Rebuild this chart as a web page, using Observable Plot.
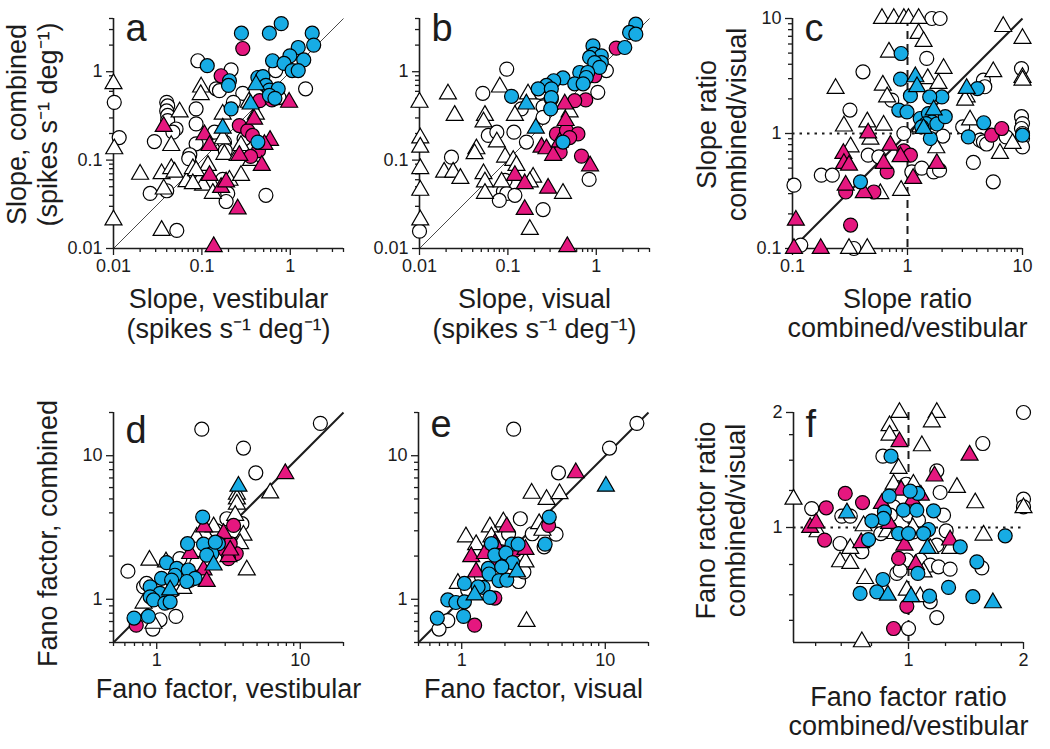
<!DOCTYPE html>
<html><head><meta charset="utf-8">
<script src="https://cdn.jsdelivr.net/npm/d3@7"></script>
<script src="https://cdn.jsdelivr.net/npm/@observablehq/plot@0.6"></script>
<style>
body{margin:0;background:#fff;}
#chart{position:relative;width:1050px;height:749px;overflow:hidden;background:#fff;}
#chart svg{position:absolute;overflow:visible;}
</style></head><body><div id="chart"></div>
<script>
// ---------- Panel a: slope combined vs vestibular ----------
const aOpenCircle = [[0.09,1.33],[0.214,1.05],[0.145,0.64],[0.158,0.61],[0.29,0.57],[0.227,0.45],[1.49,0.64],[0.04,0.45],[0.041,0.41],[0.04,0.36],[0.041,0.32],[0.041,0.28],[0.051,0.225],[0.047,0.207],[0.086,0.38],[0.086,0.257],[0.029,0.162],[0.139,0.207],[0.18,0.16],[0.086,0.153],[0.073,0.115],[0.071,0.104],[0.184,0.128],[0.026,0.042],[0.04,0.045],[0.53,0.04],[0.196,0.042],[0.188,0.034],[0.052,0.016],[0.0102,0.45],[0.0116,0.18],[0.172,0.0605],[0.684,1.03],[0.746,0.51],[0.3,0.174]];
const aOpenTri = [[0.01,0.73],[0.0102,0.134],[0.01,0.021],[0.035,0.016],[0.098,0.67],[0.097,0.55],[0.056,0.35],[0.045,0.146],[0.02,0.069],[0.035,0.07],[0.045,0.08],[0.049,0.073],[0.037,0.047],[0.067,0.057],[0.079,0.08],[0.094,0.059],[0.117,0.087],[0.103,0.052],[0.133,0.042],[0.205,0.059],[0.277,0.067],[0.172,0.33],[0.18,0.116],[0.254,0.113],[0.277,0.146],[0.36,0.099],[0.408,0.33],[0.34,0.45],[0.172,0.174],[0.086,0.076],[0.079,0.054]];
const aMagCircle = [[0.29,1.83],[0.165,0.9],[0.45,0.47],[0.265,0.246],[0.33,0.216],[0.374,0.19],[0.437,0.128],[0.356,0.11],[0.62,0.48]];
const aMagTri = [[0.97,0.45],[0.39,0.29],[0.107,0.193],[0.122,0.146],[0.59,0.167],[0.51,0.15],[0.265,0.113],[0.476,0.087],[0.122,0.067],[0.165,0.049],[0.188,0.0565],[0.254,0.028],[0.136,0.0105],[0.037,0.24]];
const aCyanCircle = [[0.28,2.73],[0.58,2.73],[0.79,3.5],[1.77,2.73],[1.84,2.0],[1.23,1.88],[0.99,1.51],[0.63,1.33],[0.85,1.24],[1.42,1.36],[1.05,1.03],[1.23,1.03],[0.115,1.17],[0.205,0.79],[0.2,0.7],[0.43,0.86],[0.49,0.88],[0.53,0.7],[0.58,0.62],[0.73,0.64],[0.58,0.54],[0.67,0.5],[0.214,0.38],[0.43,0.16]];
const aCyanTri = [[0.356,0.43],[0.172,0.23],[0.41,0.71]];

// ---------- Panel b: slope combined vs visual ----------
const bOpenCircle = [[0.097,1.07],[0.052,0.57],[0.142,0.38],[0.25,0.4],[0.31,0.49],[0.06,0.19],[0.075,0.207],[0.117,0.207],[0.162,0.16],[0.023,0.108],[0.093,0.059],[0.089,0.044],[0.097,0.042],[0.08,0.035],[0.12,0.04],[0.25,0.0276],[0.01,0.0157],[0.83,0.0605],[1.09,1.07],[1.3,1.03],[1.04,0.585],[0.23,0.585],[0.25,0.305]];
const bOpenTri = [[0.01,0.45],[0.021,0.56],[0.025,0.32],[0.0102,0.178],[0.0102,0.14],[0.0102,0.08],[0.0102,0.0455],[0.0102,0.021],[0.081,0.67],[0.055,0.32],[0.053,0.27],[0.044,0.134],[0.042,0.118],[0.075,0.16],[0.093,0.108],[0.019,0.073],[0.024,0.073],[0.029,0.062],[0.053,0.07],[0.055,0.0565],[0.055,0.042],[0.085,0.0565],[0.115,0.099],[0.125,0.087],[0.193,0.064],[0.177,0.0565],[0.42,0.042],[0.177,0.0164],[0.12,0.32],[0.169,0.56],[0.5,0.35]];
const bMagCircle = [[1.68,1.85],[0.96,0.9],[0.76,0.48],[0.354,0.198],[0.46,0.216],[0.62,0.198],[0.39,0.123],[0.68,0.111],[0.57,0.47],[0.5,0.18]];
const bMagTri = [[0.85,0.086],[0.45,0.28],[0.24,0.14],[0.273,0.134],[0.325,0.113],[0.12,0.067],[0.155,0.054],[0.285,0.048],[0.155,0.0276],[0.47,0.0105],[0.386,0.16],[0.44,0.43]];
const bCyanCircle = [[2.8,3.45],[2.38,2.78],[2.8,2.66],[2.1,1.88],[0.917,1.96],[0.93,1.58],[1.14,1.51],[1.14,1.27],[0.84,1.45],[0.96,1.27],[1.09,1.12],[0.65,0.98],[0.8,0.98],[0.77,0.86],[0.42,0.85],[0.33,0.79],[0.273,0.7],[0.22,0.64],[0.31,0.64],[0.57,0.73],[0.71,0.73],[0.11,0.527],[0.31,0.51],[0.305,0.38],[0.42,0.16]];
const bCyanTri = [[0.162,0.43],[0.207,0.23]];

// ---------- Panel c: slope ratios ----------
const cOpenCircle = [[1.63,10],[1.92,10],[1.47,4.5],[0.41,3.44],[0.73,1.95],[0.316,1.6],[4.57,2.91],[4.7,2.55],[0.455,0.648],[0.93,1.0],[0.563,0.627],[1.09,0.464],[1.33,0.5],[1.69,0.464],[1.9,0.48],[2.03,0.95],[3.02,1.14],[3.74,0.56],[4.27,0.875],[4.57,0.846],[4.87,0.81],[7.2,0.935],[5.57,0.38],[9.8,3.67],[9.8,1.4],[10,1.22],[9.8,1.105],[10,1.0],[10,0.905],[10,0.765],[0.178,0.434],[0.222,0.434],[0.103,0.355],[0.118,0.107],[0.342,0.1]];
const cOpenTri = [[0.6,10],[0.76,10],[0.93,10],[1.02,10],[1.25,10],[6.8,8.5],[1.25,7.4],[1.38,6.3],[0.69,5.1],[10,6.7],[2.06,3.67],[5.57,3.44],[0.61,2.63],[1.5,3.0],[1.86,2.72],[0.665,2.08],[0.237,2.46],[3.27,2.08],[3.17,1.95],[0.28,1.16],[0.447,1.26],[0.62,1.18],[0.476,0.89],[0.32,0.765],[0.58,0.3],[0.88,0.32],[1.78,0.75],[6.37,0.67],[8.2,0.82],[10,3.07],[10,2.91],[0.31,0.1],[0.447,0.1],[1.29,1.14],[3.5,1.31]];
const cMagCircle = [[0.93,0.707],[1.06,0.648],[0.665,0.464],[0.29,0.31],[0.51,0.31],[0.32,0.16],[5.39,0.967],[6.6,1.105]];
const cMagTri = [[0.455,1.01],[0.277,0.67],[0.28,0.548],[0.31,0.53],[0.71,0.79],[0.87,0.627],[0.62,0.548],[0.417,0.305],[1.12,0.406],[1.8,0.548],[0.107,0.176],[0.103,0.1],[0.176,0.1],[0.29,0.355]];
const cCyanCircle = [[0.88,4.96],[0.87,2.97],[1.06,2.13],[0.84,1.6],[0.99,1.54],[1.29,1.35],[1.52,1.49],[1.63,1.26],[1.45,1.22],[1.8,1.21],[1.58,0.905],[1.99,2.08],[2.13,1.4],[1.56,2.08],[3.38,0.935],[4.05,2.46],[4.6,1.24],[10,0.967],[0.39,0.38],[1.33,1.14]];
const cCyanTri = [[1.17,3.11],[1.21,2.55],[1.69,1.6],[3.27,2.46],[1.38,1.105]];

// ---------- Panel d: Fano combined vs vestibular ----------
const dOpenCircle = [[2.06,15.3],[4.02,11.3],[4.9,7.6],[13.8,16.8],[0.63,1.57],[0.81,1.22],[1.055,0.72],[0.94,0.62],[1.36,0.76],[3.08,3.64],[3.92,3.36],[1.71,1.36],[1.45,1.92],[3.43,3.0],[2.62,3.0],[2.36,2.3],[1.9,1.78],[1.31,1.16],[0.85,1.29]];
const dOpenTri = [[6.17,5.5],[3.62,5.4],[3.62,5.0],[3.62,4.6],[3.52,3.84],[4.02,2.79],[4.24,1.6],[0.89,1.87],[1.16,1.82],[1.53,1.19],[0.81,0.94],[0.95,0.68],[2.49,3.19],[2.84,2.57],[3.81,2.44],[1.9,2.7]];
const dMagCircle = [[3.43,3.27],[3.58,2.08],[3.16,1.92],[3.0,2.2],[0.72,0.66],[1.03,1.02],[3.25,2.44]];
const dMagTri = [[7.86,7.5],[2.14,3.19],[2.12,1.6],[2.23,1.33],[1.71,2.08],[3.16,1.98],[3.25,2.2],[2.92,2.87]];
const dCyanCircle = [[2.09,3.74],[1.64,2.44],[2.12,2.42],[2.69,2.44],[2.42,2.08],[2.23,2.03],[1.17,1.8],[1.38,1.64],[1.34,1.47],[1.66,1.6],[1.85,1.4],[1.08,1.4],[1.27,1.36],[1.62,1.33],[0.9,1.22],[1.055,1.1],[0.9,1.04],[0.95,0.99],[1.14,0.94],[1.24,0.96],[0.695,0.74],[0.875,0.76],[2.56,2.5]];
const dCyanTri = [[3.71,6.13],[2.49,1.73],[1.24,1.16]];

// ---------- Panel e: Fano combined vs visual ----------
const eOpenCircle = [[2.3,15.3],[10.7,11.3],[16.6,16.8],[4.72,7.6],[2.56,3.64],[4.54,2.84],[3.75,2.32],[2.49,1.33],[2.71,1.55],[0.8,0.71],[0.695,0.62],[1.1,1.16],[2.12,2.86],[3.1,2.86],[1.37,1.44]];
const eOpenTri = [[3.07,5.47],[3.9,4.95],[4.8,5.43],[1.07,2.72],[1.26,2.4],[1.57,3.19],[1.95,3.45],[2.83,0.7],[2.78,1.82],[0.94,1.29],[3.46,3.36],[3.65,3.02],[1.61,2.72]];
const eMagCircle = [[4.03,3.27],[2.36,2.2],[1.23,0.66],[1.7,1.02],[1.8,1.78],[1.9,2.14]];
const eMagTri = [[6.23,7.6],[1.165,1.98],[2.06,3.19],[2.78,2.22],[1.26,1.55],[1.45,2.08],[1.7,2.44]];
const eCyanCircle = [[4.07,3.74],[1.61,2.44],[2.24,2.42],[2.47,2.42],[3.81,2.42],[1.7,2.03],[2.03,2.1],[2.26,1.8],[1.53,1.64],[1.9,1.68],[1.55,1.5],[1.82,1.35],[2.06,1.36],[1.41,1.21],[1.044,1.29],[0.8,0.99],[0.91,0.95],[1.044,0.96],[1.57,1.03],[0.676,0.74],[1.03,0.76],[1.3,1.22]];
const eCyanTri = [[10.1,6.13],[2.43,1.55],[1.23,1.07]];

// ---------- Panel f: Fano ratios ----------
const fOpenCircle = [[0.857,1.537],[1.186,1.407],[1.21,1.235],[1.565,1.659],[2.0,2.0],[2.0,1.186],[2.0,1.133],[0.558,1.121],[0.669,1.071],[0.704,1.071],[0.662,0.908],[0.755,0.864],[0.846,0.964],[0.914,1.133],[0.928,1.273],[0.986,1.298],[1.0,1.077],[1.062,1.045],[1.03,0.974],[1.186,0.899],[1.235,1.077],[1.255,0.98],[0.99,0.822],[1.073,0.822],[1.14,0.797],[1.198,0.789],[1.285,0.778],[1.556,0.784],[0.932,0.758],[0.951,0.773],[1.14,0.639],[1.186,0.581],[1.0,0.544],[0.896,1.077]];
const fOpenTri = [[0.947,2.0],[1.186,2.0],[1.151,1.89],[0.892,1.846],[0.892,1.745],[0.942,1.427],[1.084,1.636],[0.5,1.186],[0.914,1.298],[1.03,1.298],[1.339,1.273],[1.495,1.16],[1.572,0.955],[2.0,1.126],[0.763,1.01],[0.704,0.881],[0.662,0.813],[0.704,0.805],[0.77,0.735],[0.99,0.685],[1.073,0.659],[1.095,0.765],[0.755,0.502],[0.878,0.974],[0.923,0.964],[1.026,0.998],[1.14,0.881],[1.285,0.881],[0.578,0.974]];
const fMagCircle = [[0.683,1.228],[0.758,1.162],[0.609,1.126],[0.603,0.927],[0.942,0.83],[0.99,0.622],[0.914,0.544]];
const fMagTri = [[0.947,1.676],[1.445,1.546],[1.17,1.363],[0.957,1.252],[1.077,1.215],[0.852,1.156],[0.553,1.0],[0.573,1.028],[0.752,0.912],[0.89,1.024],[0.976,0.899],[1.045,0.8],[1.285,0.927],[1.024,1.179]];
const fCyanCircle = [[0.9,1.537],[0.89,1.208],[0.865,1.099],[0.86,1.056],[0.802,1.041],[0.786,0.93],[1.058,1.228],[1.01,1.245],[0.97,1.11],[1.051,1.11],[1.163,1.106],[1.128,0.988],[1.095,0.964],[0.942,0.964],[1.0,0.964],[1.366,0.89],[1.51,0.813],[1.791,0.951],[0.857,0.731],[1.058,0.758],[0.747,0.672],[0.826,0.678],[1.135,0.661],[1.273,0.697],[1.474,0.659]];
const fCyanTri = [[0.69,1.092],[1.121,0.881],[0.883,0.665],[1.016,0.659],[1.663,0.635]];

// ---------- Axis domains and ticks ----------
const slopeDomain = [0.01, 4];
const slopeMajor = [0.01, 0.1, 1];
const slopeMinor = [0.02,0.03,0.04,0.05,0.06,0.07,0.08,0.09,0.2,0.3,0.4,0.5,0.6,0.7,0.8,0.9,2,3,4];
const ratioDomain = [0.1, 10];
const ratioMajor = [0.1, 1, 10];
const ratioMinor = [0.2,0.3,0.4,0.5,0.6,0.7,0.8,0.9,2,3,4,5,6,7,8,9];
const fanoDomain = [0.5, 20];
const fanoMajor = [1, 10];
const fanoMinor = [0.5,0.6,0.7,0.8,0.9,2,3,4,5,6,7,8,9,20];
const fanoRatioDomain = [0.5, 2];
const fanoRatioMajor = [1, 2];
const fanoRatioMinor = [0.5714,0.6667,0.8,1.25,1.5,1.75];

const CYAN = "#17ace5", MAGENTA = "#e5177f", INK = "#1c1c1c";
const FONT = "'Liberation Sans', Arial, Helvetica, sans-serif";
const SPK = "(spikes s\u207B\u00B9 deg\u207B\u00B9)";

function panel(cfg) {
  const FW = 230, FH = 230;
  const mr = cfg.width - cfg.ml - FW, mb = cfg.height - cfg.mt - FH;
  const [x0, x1] = cfg.xDomain, [y0, y1] = cfg.yDomain;
  const marks = [];
  if (cfg.diag) {
    marks.push(Plot.link([{a: x0, b: y0, c: x1, d: y1}], {x1: "a", y1: "b", x2: "c", y2: "d", stroke: INK, strokeWidth: cfg.diag}));
  }
  if (cfg.refs) {
    marks.push(Plot.ruleY([1], {stroke: INK, strokeWidth: 2, strokeDasharray: "2.5,5"}));
    marks.push(Plot.ruleX([1], {stroke: INK, strokeWidth: 2, strokeDasharray: "8,5"}));
  }
  // axes
  marks.push(Plot.axisX(cfg.xMinor, {tickSize: 4, strokeWidth: 1.3, tickFormat: () => "", label: null}));
  marks.push(Plot.axisX(cfg.xMajor, {tickSize: 7, strokeWidth: 1.3, tickPadding: 4, fontSize: 18, tickFormat: d => String(d), label: null}));
  marks.push(Plot.axisY(cfg.yMinor, {tickSize: 4, strokeWidth: 1.3, tickFormat: () => "", label: null}));
  marks.push(Plot.axisY(cfg.yMajor, {tickSize: 7, strokeWidth: 1.3, tickPadding: 4, fontSize: 18, tickFormat: d => String(d), label: null}));
  marks.push(Plot.ruleX([x0], {stroke: INK, strokeWidth: 1.6}));
  marks.push(Plot.ruleY([y0], {stroke: INK, strokeWidth: 1.6}));
  // points
  const P = {x: d => d[0], y: d => d[1], stroke: "black", strokeWidth: 1.2};
  const layers = [
    [cfg.openC, "circle", "white"], [cfg.openT, "triangle", "white"],
    [cfg.magC, "circle", MAGENTA], [cfg.magT, "triangle", MAGENTA],
    [cfg.cyanC, "circle", CYAN], [cfg.cyanT, "triangle", CYAN]
  ];
  for (const [data, sym, fill] of layers) {
    marks.push(Plot.dot(data, {...P, symbol: sym, fill, r: sym === "circle" ? 7 : 6.3}));
  }
  // panel letter
  marks.push(Plot.text([cfg.letter], {text: d => d, frameAnchor: "top-left", dx: 12, dy: cfg.letterDy, textAnchor: "start", lineAnchor: "bottom", fontSize: 38, fill: INK}));
  // axis titles
  for (const [t, dy] of cfg.xLabels) {
    marks.push(Plot.text([t], {text: d => d, frameAnchor: "bottom", dy, textAnchor: "middle", lineAnchor: "bottom", fontSize: 27, fill: INK}));
  }
  for (const [t, dx] of (cfg.yLabels || [])) {
    marks.push(Plot.text([t], {text: d => d, frameAnchor: "left", dx, dy: cfg.yDy || 0, rotate: -90, textAnchor: "middle", lineAnchor: "bottom", fontSize: 27, fill: INK}));
  }
  const svg = Plot.plot({
    width: cfg.width, height: cfg.height,
    marginLeft: cfg.ml, marginRight: mr, marginTop: cfg.mt, marginBottom: mb,
    x: {type: "log", domain: cfg.xDomain, label: null},
    y: {type: "log", domain: cfg.yDomain, label: null},
    style: {fontFamily: FONT, fontSize: "18px", color: INK, background: "transparent", overflow: "visible"},
    marks
  });
  svg.style.left = cfg.left + "px";
  svg.style.top = cfg.top + "px";
  document.getElementById("chart").appendChild(svg);
}

const row1 = {top: 0, height: 375, mt: 18};
const row2 = {top: 375, height: 374, mt: 37};

panel({...row1, left: 0, width: 360, ml: 113, xDomain: slopeDomain, yDomain: slopeDomain,
  xMajor: slopeMajor, xMinor: slopeMinor, yMajor: slopeMajor, yMinor: slopeMinor, diag: 0.8,
  openC: aOpenCircle, openT: aOpenTri, magC: aMagCircle, magT: aMagTri, cyanC: aCyanCircle, cyanT: aCyanTri,
  letter: "a", letterDy: 22, xLabels: [["Slope, vestibular", 59], [SPK, 89]],
  yLabels: [["Slope, combined", -88], [SPK, -57]], yDy: -9});

panel({...row1, left: 360, width: 320, ml: 59, xDomain: slopeDomain, yDomain: slopeDomain,
  xMajor: slopeMajor, xMinor: slopeMinor, yMajor: slopeMajor, yMinor: slopeMinor, diag: 0.8,
  openC: bOpenCircle, openT: bOpenTri, magC: bMagCircle, magT: bMagTri, cyanC: bCyanCircle, cyanT: bCyanTri,
  letter: "b", letterDy: 22, xLabels: [["Slope, visual", 59], [SPK, 89]]});

panel({...row1, left: 680, width: 370, ml: 112, xDomain: ratioDomain, yDomain: ratioDomain,
  xMajor: ratioMajor, xMinor: ratioMinor, yMajor: ratioMajor, yMinor: ratioMinor, diag: 2, refs: true,
  openC: cOpenCircle, openT: cOpenTri, magC: cMagCircle, magT: cMagTri, cyanC: cCyanCircle, cyanT: cCyanTri,
  letter: "c", letterDy: 22, xLabels: [["Slope ratio", 59], ["combined/vestibular", 88]],
  yLabels: [["Slope ratio", -77], ["combined/visual", -47]], yDy: -9});

panel({...row2, left: 0, width: 360, ml: 113, xDomain: fanoDomain, yDomain: fanoDomain,
  xMajor: fanoMajor, xMinor: fanoMinor, yMajor: fanoMajor, yMinor: fanoMinor, diag: 2,
  openC: dOpenCircle, openT: dOpenTri, magC: dMagCircle, magT: dMagTri, cyanC: dCyanCircle, cyanT: dCyanTri,
  letter: "d", letterDy: 30, xLabels: [["Fano factor, vestibular", 55]],
  yLabels: [["Fano factor, combined", -57]], yDy: 6});

panel({...row2, left: 360, width: 320, ml: 58, xDomain: fanoDomain, yDomain: fanoDomain,
  xMajor: fanoMajor, xMinor: fanoMinor, yMajor: fanoMajor, yMinor: fanoMinor, diag: 2,
  openC: eOpenCircle, openT: eOpenTri, magC: eMagCircle, magT: eMagTri, cyanC: eCyanCircle, cyanT: eCyanTri,
  letter: "e", letterDy: 24, xLabels: [["Fano factor, visual", 55]]});

panel({...row2, left: 680, width: 370, ml: 113, xDomain: fanoRatioDomain, yDomain: fanoRatioDomain,
  xMajor: fanoRatioMajor, xMinor: fanoRatioMinor, yMajor: fanoRatioMajor, yMinor: fanoRatioMinor, refs: true,
  openC: fOpenCircle, openT: fOpenTri, magC: fMagCircle, magT: fMagTri, cyanC: fCyanCircle, cyanT: fCyanTri,
  letter: "f", letterDy: 24, xLabels: [["Fano factor ratio", 63], ["combined/vestibular", 92]],
  yLabels: [["Fano ractor ratio", -79], ["combined/visual", -49]], yDy: -7});
</script>
</body></html>
